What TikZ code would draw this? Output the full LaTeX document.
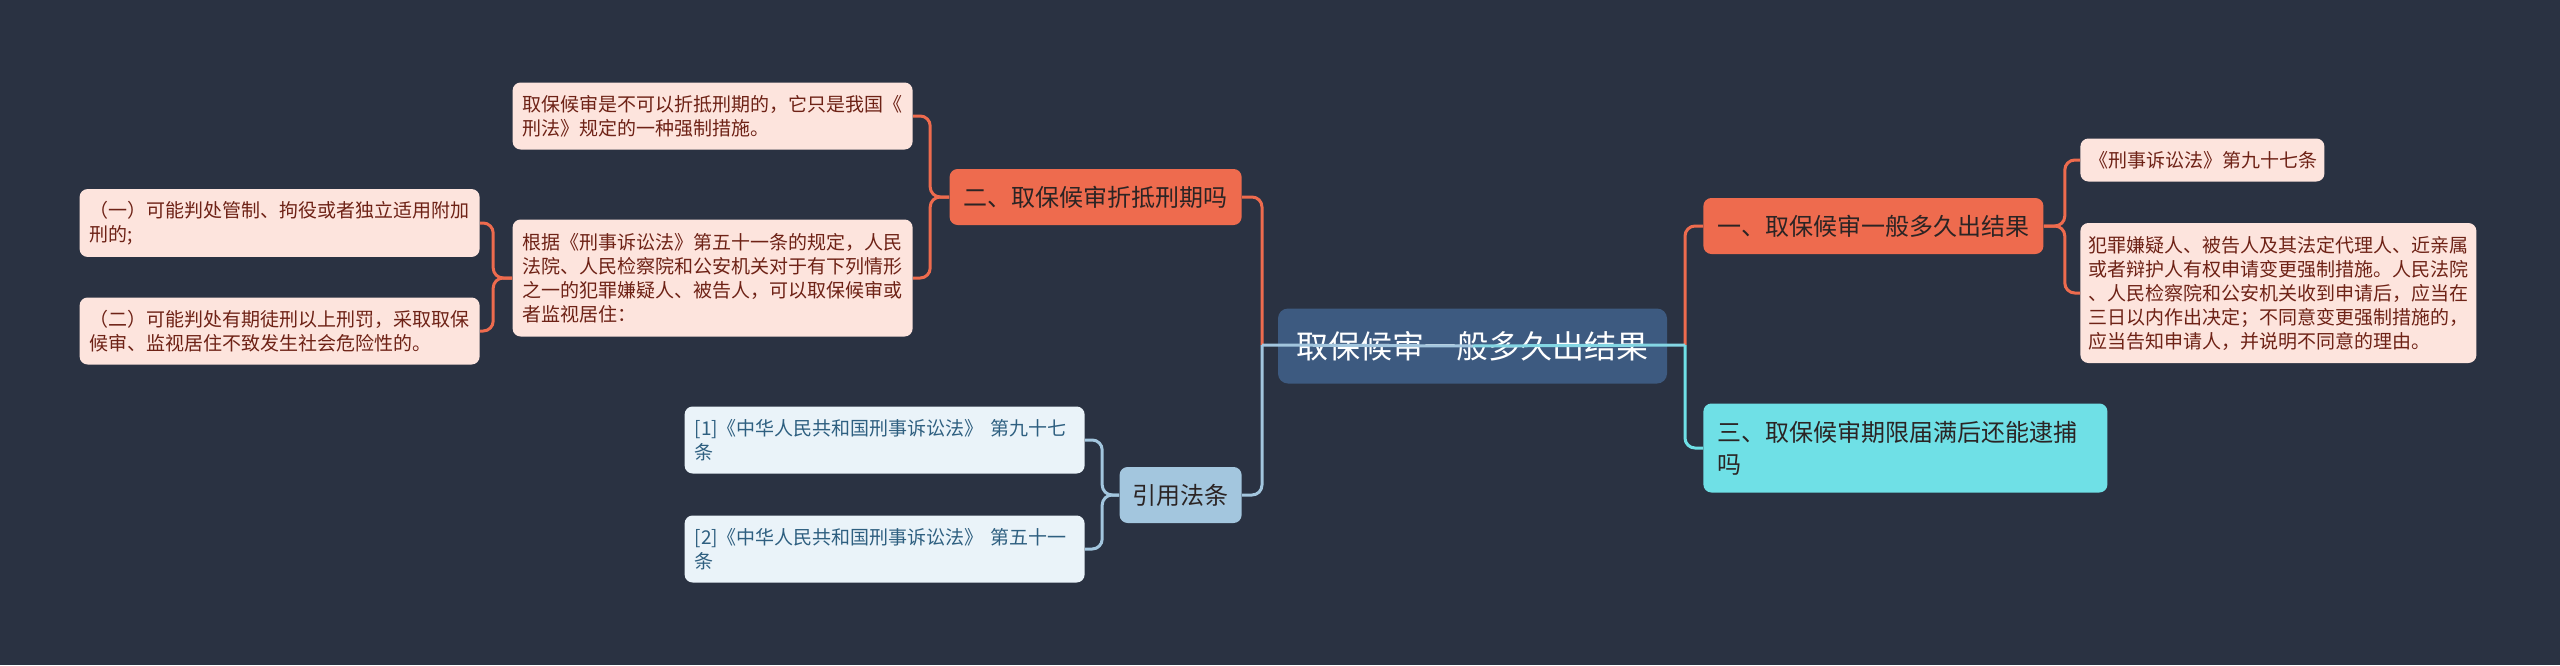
\documentclass[tikz,border=0pt]{standalone}
\usepackage{fontspec}
\newfontfamily\cjk{Noto Sans CJK SC}
\usetikzlibrary{positioning}

\definecolor{bgdark}{HTML}{2A3242}
\definecolor{rootblue}{HTML}{3D5A80}
\definecolor{topicred}{HTML}{EE6B4E}
\definecolor{leafpink}{HTML}{FDE4DD}
\definecolor{leaftext}{HTML}{6E2216}
\definecolor{refblue}{HTML}{A3C6DE}
\definecolor{refleaf}{HTML}{EAF3F9}
\definecolor{reftext}{HTML}{2E5F80}
\definecolor{thirdcyan}{HTML}{6FE0E6}
\definecolor{darktext}{HTML}{2B2424}

\begin{document}
\begin{tikzpicture}[
    x=0.5pt, y=-0.5pt,
    font=\cjk,
    rootnode/.style={
        rectangle, fill=rootblue, rounded corners=5pt, text=white,
        font=\cjk\fontsize{16pt}{19pt}\selectfont,
        minimum width=194.5pt, minimum height=37.5pt, inner sep=0pt
    },
    topicnode/.style={
        rectangle, fill=topicred, rounded corners=4pt, text=darktext,
        font=\cjk\fontsize{12pt}{16pt}\selectfont,
        minimum height=28pt, inner xsep=7pt, inner ysep=0pt
    },
    thirdnode/.style={
        topicnode, fill=thirdcyan, text=darktext, text width=188pt,
        align=left, minimum height=44.5pt
    },
    refnode/.style={
        topicnode, fill=refblue, text=darktext, inner xsep=6.5pt
    },
    leafnode/.style={
        rectangle, fill=leafpink, rounded corners=4pt, text=leaftext,
        font=\cjk\fontsize{9.5pt}{12pt}\selectfont,
        text width=190pt, align=left, inner xsep=5pt, inner ysep=6pt,
        minimum height=33.5pt
    },
    refleafnode/.style={
        leafnode, fill=refleaf, text=reftext
    },
    rededge/.style={draw=topicred, line width=1.5pt, rounded corners=5pt},
    refedge/.style={draw=refblue, line width=1.5pt, rounded corners=5pt},
    cyanedge/.style={draw=thirdcyan, line width=1.5pt, rounded corners=5pt}
]

\fill[bgdark] (0,0) rectangle (2560,665);
\useasboundingbox (0,0) rectangle (2560,665);

% Central topic and the two hubs beside it
\node[rootnode] (root) at (1472.5,346) {取保候审一般多久出结果};
\coordinate (lhub) at (1262,345);
\coordinate (rhub) at (1685,345);

% Left branches
\node[topicnode, anchor=east] (topic2) at (1242,197) {二、取保候审折抵刑期吗};
\node[refnode, anchor=east] (refs) at (1242,495) {引用法条};

\node[leafnode, anchor=east] (leaf2a) at (913,116)
    {取保候审是不可以折抵刑期的，它只是我国《\\刑法》规定的一种强制措施。};
\node[leafnode, anchor=east, minimum height=58.5pt] (leaf2b) at (913,278)
    {根据《刑事诉讼法》第五十一条的规定，人民\\法院、人民检察院和公安机关对于有下列情形\\之一的犯罪嫌疑人、被告人，可以取保候审或\\者监视居住：};
\node[leafnode, anchor=east] (case1) at (480,223)
    {（一）可能判处管制、拘役或者独立适用附加\\刑的;};
\node[leafnode, anchor=east] (case2) at (480,331)
    {（二）可能判处有期徒刑以上刑罚，采取取保\\候审、监视居住不致发生社会危险性的。};

\node[refleafnode, anchor=east] (ref1) at (1085,440)
    {[1]《中华人民共和国刑事诉讼法》 第九十七\\条};
\node[refleafnode, anchor=east] (ref2) at (1085,549)
    {[2]《中华人民共和国刑事诉讼法》 第五十一\\条};

% Right branches
\node[topicnode, anchor=west] (topic1) at (1703,226) {一、取保候审一般多久出结果};
\node[thirdnode, anchor=west] (topic3) at (1703,448) {三、取保候审期限届满后还能逮捕\\吗};

\node[leafnode, anchor=west, text width=113pt, minimum height=21.5pt,
    inner xsep=4.5pt] (leaf1a) at (2080,160) {《刑事诉讼法》第九十七条};
\node[leafnode, anchor=west, minimum height=70pt, inner xsep=4pt] (leaf1b) at (2080,293)
    {犯罪嫌疑人、被告人及其法定代理人、近亲属\\或者辩护人有权申请变更强制措施。人民法院\\、人民检察院和公安机关收到申请后，应当在\\三日以内作出决定；不同意变更强制措施的，\\应当告知申请人，并说明不同意的理由。};

% ------------------------------- Edges ---------------------------------------
\draw[rededge] (lhub) |- (topic2.east);
\draw[refedge] (lhub) |- (refs.east);
\draw[rededge] (rhub) |- (topic1.west);
\draw[cyanedge] (rhub) |- (topic3.west);
\draw[refedge, rounded corners=0pt] (root.center) -- (lhub);
\draw[cyanedge, draw=refblue!40!thirdcyan, rounded corners=0pt] (root.center) -- (rhub);

\draw[rededge] (topic2.west) -- ++(-19,0) |- (leaf2a.east);
\draw[rededge] (topic2.west) -- ++(-19,0) |- (leaf2b.east);
\draw[rededge] (leaf2b.west) -- ++(-19,0) |- (case1.east);
\draw[rededge] (leaf2b.west) -- ++(-19,0) |- (case2.east);
\draw[refedge] (refs.west) -- ++(-17,0) |- (ref1.east);
\draw[refedge] (refs.west) -- ++(-17,0) |- (ref2.east);
\draw[rededge] (topic1.east) -- ++(21,0) |- (leaf1a.west);
\draw[rededge] (topic1.east) -- ++(21,0) |- (leaf1b.west);

\end{tikzpicture}
\end{document}
